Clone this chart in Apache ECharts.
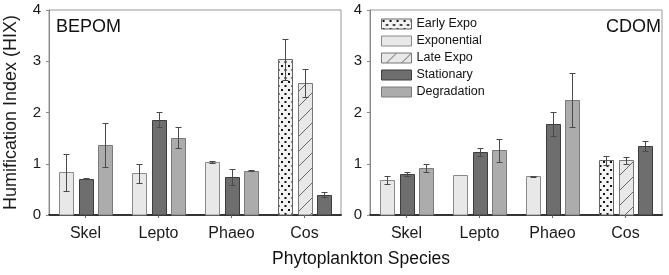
<!DOCTYPE html>
<html>
<head>
<meta charset="utf-8">
<script src="https://cdn.jsdelivr.net/npm/echarts@6/dist/echarts.min.js"></script>
<style>
  html, body { margin: 0; padding: 0; background: #fff; }
  #chart { width: 669px; height: 275px; }
</style>
</head>
<body>
<div id="chart"></div>
<script>
const species = ['Skel', 'Lepto', 'Phaeo', 'Cos'];
const stages = ['Early Expo', 'Exponential', 'Late Expo', 'Stationary', 'Degradation'];
const yTicks = [0, 1, 2, 3, 4];

// BEPOM: means and error (+/-)
const bepomEarlyExpo   = [null, null, null, 3.04];
const bepomExponential = [0.83, 0.81, 1.03, null];
const bepomLateExpo    = [null, null, null, 2.58];
const bepomStationary  = [0.71, 1.86, 0.74, 0.40];
const bepomDegradation = [1.37, 1.51, 0.86, null];
const bepomEarlyExpoErr   = [null, null, null, 0.40];
const bepomExponentialErr = [0.36, 0.19, 0.02, null];
const bepomLateExpoErr    = [null, null, null, 0.27];
const bepomStationaryErr  = [0.01, 0.15, 0.16, 0.05];
const bepomDegradationErr = [0.43, 0.20, 0.01, null];

// CDOM: means and error (+/-)
const cdomEarlyExpo   = [null, null, null, 1.07];
const cdomExponential = [0.69, 0.79, 0.76, null];
const cdomLateExpo    = [null, null, null, 1.07];
const cdomStationary  = [0.80, 1.23, 1.78, 1.35];
const cdomDegradation = [0.92, 1.26, 2.25, null];
const cdomEarlyExpoErr   = [null, null, null, 0.09];
const cdomExponentialErr = [0.08, 0, 0.01, null];
const cdomLateExpoErr    = [null, null, null, 0.07];
const cdomStationaryErr  = [0.04, 0.07, 0.23, 0.10];
const cdomDegradationErr = [0.08, 0.22, 0.53, null];

const panels = [
  {
    name: 'BEPOM',
    mean: [bepomEarlyExpo, bepomExponential, bepomLateExpo, bepomStationary, bepomDegradation],
    err: [bepomEarlyExpoErr, bepomExponentialErr, bepomLateExpoErr, bepomStationaryErr, bepomDegradationErr]
  },
  {
    name: 'CDOM',
    mean: [cdomEarlyExpo, cdomExponential, cdomLateExpo, cdomStationary, cdomDegradation],
    err: [cdomEarlyExpoErr, cdomExponentialErr, cdomLateExpoErr, cdomStationaryErr, cdomDegradationErr]
  }
];

// fill patterns
function dotPattern() {
  const c = document.createElement('canvas');
  c.width = 7; c.height = 8;
  const g = c.getContext('2d');
  g.fillStyle = '#f3f3f3';
  g.fillRect(0, 0, 7, 8);
  g.fillStyle = '#111';
  g.fillRect(1, 1, 2, 2);
  g.fillRect(4.5, 5, 2, 2);
  return { image: c, repeat: 'repeat' };
}
function hatchPattern() {
  const c = document.createElement('canvas');
  c.width = 15; c.height = 15;
  const g = c.getContext('2d');
  g.fillStyle = '#e8e8e8';
  g.fillRect(0, 0, 15, 15);
  g.strokeStyle = '#666';
  g.lineWidth = 1;
  g.beginPath();
  g.moveTo(0, 15); g.lineTo(15, 0);
  g.moveTo(-1, 1); g.lineTo(1, -1);
  g.moveTo(14, 16); g.lineTo(16, 14);
  g.stroke();
  return { image: c, repeat: 'repeat' };
}

const stageStyle = [
  { fill: dotPattern(), stroke: '#666' },
  { fill: '#e8e8e8', stroke: '#8a8a8a' },
  { fill: hatchPattern(), stroke: '#777' },
  { fill: '#6e6e6e', stroke: '#3c3c3c' },
  { fill: '#acacac', stroke: '#7a7a7a' }
];

function makeRender(p, s) {
  return function (params, api) {
    const ci = api.value(0), v = api.value(1), e = api.value(2);
    const present = [];
    panels[p].mean.forEach((arr, k) => { if (arr[ci] != null) present.push(k); });
    const slot = present.indexOf(s), n = present.length;
    const band = api.size([1, 0])[0];
    const base = api.coord([ci, 0]);
    const top = api.coord([ci, v]);
    const w = Math.round(band * 0.19);
    let cx = base[0] + (slot - (n - 1) / 2) * band * 0.267;
    const x0 = Math.round(cx - w / 2) + 0.5;
    const lx = x0 + Math.floor(w / 2);
    const st = stageStyle[s];
    const children = [{
      type: 'rect',
      shape: { x: x0, y: Math.round(top[1]) + 0.5, width: w, height: base[1] - Math.round(top[1]) - 0.5 },
      style: { fill: st.fill, stroke: st.stroke, lineWidth: 1 }
    }];
    if (e) {
      const hi = Math.round(api.coord([ci, v + e])[1]) + 0.5;
      const lo = Math.round(api.coord([ci, v - e])[1]) + 0.5;
      const cap = 3;
      const es = { stroke: '#4a4a4a', lineWidth: 1 };
      children.push({ type: 'line', shape: { x1: lx, y1: hi, x2: lx, y2: lo }, style: es });
      children.push({ type: 'line', shape: { x1: lx - cap, y1: hi, x2: lx + cap, y2: hi }, style: es });
      children.push({ type: 'line', shape: { x1: lx - cap, y1: lo, x2: lx + cap, y2: lo }, style: es });
    }
    return { type: 'group', children: children };
  };
}

const series = [];
panels.forEach((pan, p) => {
  stages.forEach((name, s) => {
    const data = [];
    species.forEach((sp, i) => {
      if (pan.mean[s][i] != null) data.push([i, pan.mean[s][i], pan.err[s][i] || 0]);
    });
    series.push({
      type: 'custom',
      name: name,
      xAxisIndex: p,
      yAxisIndex: p,
      itemStyle: { color: stageStyle[s].fill, borderColor: stageStyle[s].stroke, borderWidth: 1 },
      encode: { x: 0, y: 1 },
      renderItem: makeRender(p, s),
      data: data
    });
  });
});

const font = 'Liberation Sans, Arial, sans-serif';

function xAxisFor(p) {
  return {
    type: 'category',
    gridIndex: p,
    data: species,
    axisLine: { lineStyle: { color: '#333', width: 2 } },
    axisTick: { show: true, alignWithLabel: true, length: 3, lineStyle: { color: '#666' } },
    axisLabel: { fontSize: 16, color: '#1a1a1a', margin: 11, fontFamily: font },
    splitLine: { show: false }
  };
}
function yAxisFor(p) {
  return {
    type: 'value',
    gridIndex: p,
    min: yTicks[0],
    max: yTicks[yTicks.length - 1],
    interval: 1,
    name: p === 0 ? 'Humification Index (HIX)' : '',
    nameLocation: 'middle',
    nameGap: 29,
    nameTextStyle: { fontSize: 18, color: '#1a1a1a', fontFamily: font },
    axisLine: { show: true, lineStyle: { color: '#888', width: 1 } },
    axisTick: { show: true, length: 3, lineStyle: { color: '#888' } },
    axisLabel: { fontSize: 15, color: '#1a1a1a', margin: 8, fontFamily: font },
    splitLine: { show: false }
  };
}

const chart = echarts.init(document.getElementById('chart'));
chart.setOption({
  animation: false,
  textStyle: { fontFamily: font },
  title: [
    { text: 'BEPOM', left: 56, top: 18, padding: 0, textStyle: { fontSize: 18, fontWeight: 'normal', color: '#111', fontFamily: font } },
    { text: 'CDOM', right: 8, top: 18, padding: 0, textStyle: { fontSize: 18, fontWeight: 'normal', color: '#111', fontFamily: font } },
    { text: 'Phytoplankton Species', left: 272, top: 250, padding: 0, textStyle: { fontSize: 17.5, fontWeight: 'normal', color: '#111', fontFamily: font } }
  ],
  legend: {
    data: stages,
    orient: 'vertical',
    left: 381,
    top: 17,
    padding: 0,
    icon: 'rect',
    itemWidth: 30,
    itemHeight: 10,
    itemGap: 3,
    itemStyle: { borderWidth: 1, borderColor: 'inherit' },
    textStyle: { fontSize: 12.5, color: '#111', lineHeight: 14, fontFamily: font },
    selectedMode: false
  },
  grid: [
    { left: 49, top: 10, width: 292, height: 205, show: true, borderColor: '#999', borderWidth: 1 },
    { left: 370, top: 10, width: 292, height: 205, show: true, borderColor: '#999', borderWidth: 1 }
  ],
  xAxis: [xAxisFor(0), xAxisFor(1)],
  yAxis: [yAxisFor(0), yAxisFor(1)],
  series: series
});
</script>
</body>
</html>
